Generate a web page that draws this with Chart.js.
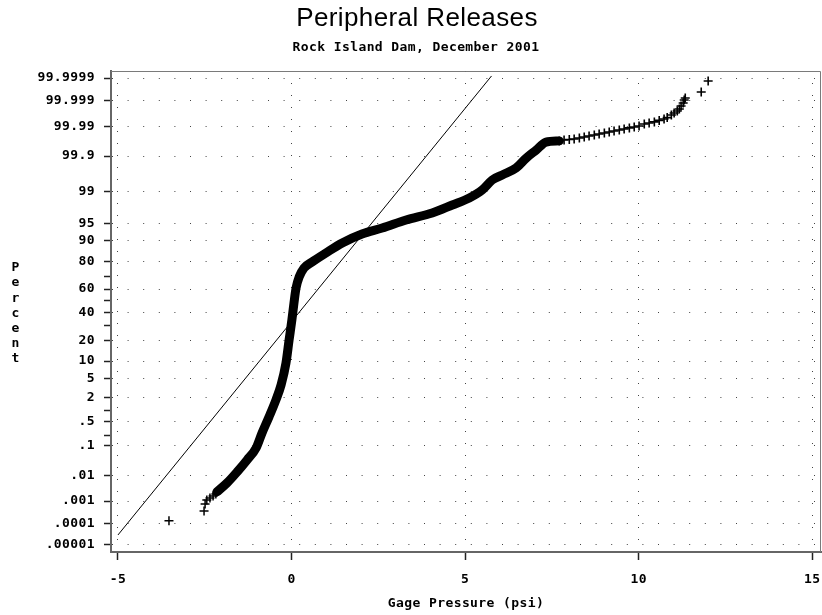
<!DOCTYPE html>
<html>
<head>
<meta charset="utf-8">
<script src="https://cdn.jsdelivr.net/npm/chart.js@4.4.1/dist/chart.umd.min.js"></script>
<style>
  html, body { margin: 0; padding: 0; background: #fff; }
  canvas { display: block; }
</style>
</head>
<body>
<canvas id="c" width="822" height="615"></canvas>
<script>
// ---------------- data ----------------
const chartTitle = 'Peripheral Releases';
const chartSubtitle = 'Rock Island Dam, December 2001';
const xTitle = 'Gage Pressure (psi)';
const yTitle = 'Percent';

const xTicks = [-5, 0, 5, 10, 15];
const yTickPct = [99.9999, 99.999, 99.99, 99.9, 99, 95, 90, 80, 60, 40, 20, 10, 5, 2, 0.5, 0.1, 0.01, 0.001, 0.0001, 0.00001];
const yTickLabels = ['99.9999', '99.999', '99.99', '99.9', '99', '95', '90', '80', '60', '40', '20', '10', '5', '2', '.5', '.1', '.01', '.001', '.0001', '.00001'];
const yMinorPct = [70, 50, 30, 1, 0.2];

// lower tail, individual observations (pressure psi, cumulative percent)
const lowTailX = [-3.53, -2.52, -2.49, -2.44, -2.35, -2.26, -2.18];
const lowTailPct = [0.000141, 0.000377, 0.00075, 0.00110, 0.00134, 0.00160, 0.00194];

// dense body of the sample (overlapping markers form a solid band)
const bodyX = [-2.15, -1.86, -1.57, -1.28, -1.02, -0.85, -0.65, -0.45, -0.30, -0.16, -0.07, 0.01, 0.07, 0.13, 0.22, 0.36, 0.59, 0.99, 1.46, 2.03, 2.61, 3.30, 4.05, 4.63, 5.12, 5.49, 5.78, 6.07, 6.47, 6.76, 7.05, 7.33, 7.71];
const bodyPct = [0.00234, 0.0052, 0.0133, 0.035, 0.086, 0.244, 0.67, 1.74, 3.7, 9.3, 20.3, 34.3, 48.3, 60.9, 69.6, 75.9, 79.7, 84.7, 89.2, 92.35, 94.0, 95.8, 96.97, 97.97, 98.60, 99.10, 99.506, 99.639, 99.772, 99.885, 99.936, 99.965, 99.968];

// upper tail, individual observations
const highTailX = [7.71, 7.85, 8.00, 8.14, 8.29, 8.43, 8.57, 8.72, 8.86, 9.01, 9.15, 9.29, 9.44, 9.58, 9.73, 9.87, 10.01, 10.16, 10.30, 10.45, 10.59, 10.73, 10.82, 10.94, 11.02, 11.11, 11.17, 11.22, 11.28, 11.31, 11.34, 11.80, 12.00];
const highTailPct = [99.9677, 99.9701, 99.9712, 99.9723, 99.9744, 99.9764, 99.9782, 99.9799, 99.9815, 99.9830, 99.9843, 99.9856, 99.9867, 99.9878, 99.9888, 99.9896, 99.9905, 99.9920, 99.9926, 99.9933, 99.9941, 99.9948, 99.9954, 99.99635, 99.99695, 99.99745, 99.99788, 99.9984, 99.99879, 99.99909, 99.99925, 99.999583, 99.999864];

// fitted normal reference line (end points)
const fitX = [-5.0, 5.76];
const fitPct = [0.0000303, 99.99992];

// axis ranges (x in psi, y in normal-quantile units)
const xMin = -5.2, xMax = 15.25;
const yMinZ = -5.352, yMaxZ = 4.904;

// ---------------- helpers ----------------
function probit(p) { // inverse standard normal CDF (Acklam)
  const a = [-3.969683028665376e+01, 2.209460984245205e+02, -2.759285104469687e+02, 1.383577518672690e+02, -3.066479806614716e+01, 2.506628277459239e+00];
  const b = [-5.447609879822406e+01, 1.615858368580409e+02, -1.556989798598866e+02, 6.680131188771972e+01, -1.328068155288572e+01];
  const c = [-7.784894002430293e-03, -3.223964580411365e-01, -2.400758277161838e+00, -2.549732539343734e+00, 4.374664141464968e+00, 2.938163982698783e+00];
  const d = [7.784695709041462e-03, 3.224671290700398e-01, 2.445134137142996e+00, 3.754408661907416e+00];
  const pl = 0.02425, ph = 1 - pl;
  let q, r;
  if (p < pl) {
    q = Math.sqrt(-2 * Math.log(p));
    return (((((c[0]*q+c[1])*q+c[2])*q+c[3])*q+c[4])*q+c[5]) / ((((d[0]*q+d[1])*q+d[2])*q+d[3])*q+1);
  }
  if (p <= ph) {
    q = p - 0.5; r = q * q;
    return (((((a[0]*r+a[1])*r+a[2])*r+a[3])*r+a[4])*r+a[5])*q / (((((b[0]*r+b[1])*r+b[2])*r+b[3])*r+b[4])*r+1);
  }
  q = Math.sqrt(-2 * Math.log(1 - p));
  return -(((((c[0]*q+c[1])*q+c[2])*q+c[3])*q+c[4])*q+c[5]) / ((((d[0]*q+d[1])*q+d[2])*q+d[3])*q+1);
}
const toPoints = (xs, pcts) => xs.map((x, i) => ({ x: x, y: probit(pcts[i] / 100) }));

const monoFont = { family: "'DejaVu Sans Mono', monospace", size: 13, weight: 'bold' };

const framePlugin = {
  id: 'frame',
  beforeDraw(chart) {
    chart.ctx.letterSpacing = '0.4px';
  },
  beforeDatasetsDraw(chart) {
    const { ctx, chartArea: a } = chart;
    ctx.save();
    ctx.strokeStyle = '#7a7a7a';
    ctx.lineWidth = 1;
    ctx.beginPath();
    ctx.moveTo(a.left, a.top + 0.5);
    ctx.lineTo(a.right - 0.5, a.top + 0.5);
    ctx.lineTo(a.right - 0.5, a.bottom);
    ctx.stroke();
    ctx.restore();
  },
  afterDraw(chart) {
    const { ctx, chartArea: a } = chart;
    ctx.save();
    ctx.fillStyle = '#000';
    ctx.textAlign = 'center';
    // title and subtitle
    ctx.textBaseline = 'alphabetic';
    ctx.font = "26px 'Liberation Sans', Arial, sans-serif";
    ctx.fillText(chartTitle, 417, 26);
    ctx.font = "bold 13px 'DejaVu Sans Mono', monospace";
    ctx.fillText(chartSubtitle, 416, 51);
    // stacked y-axis title
    ctx.textBaseline = 'middle';
    const step = 15.2;
    const cy = (a.top + a.bottom) / 2 + 2;
    const letters = yTitle.split('');
    const y0 = cy - step * (letters.length - 1) / 2;
    letters.forEach((ch, i) => ctx.fillText(ch, 15.5, y0 + i * step));
    ctx.restore();
  }
};

new Chart(document.getElementById('c'), {
  type: 'line',
  data: {
    datasets: [
      {
        label: 'fit',
        data: toPoints(fitX, fitPct),
        borderColor: '#000', borderWidth: 1,
        pointRadius: 0, fill: false, tension: 0
      },
      {
        label: 'body',
        data: toPoints(bodyX, bodyPct),
        borderColor: '#000', borderWidth: 9,
        borderCapStyle: 'round', borderJoinStyle: 'round',
        cubicInterpolationMode: 'monotone',
        pointRadius: 0, fill: false
      },
      {
        label: 'low tail',
        data: toPoints(lowTailX, lowTailPct),
        showLine: false,
        pointStyle: 'cross', pointRadius: 4.5, pointBorderWidth: 1.5,
        pointBorderColor: '#000', pointBackgroundColor: '#000'
      },
      {
        label: 'high tail',
        data: toPoints(highTailX, highTailPct),
        showLine: false,
        pointStyle: 'cross', pointRadius: 4.5, pointBorderWidth: 1.6,
        pointBorderColor: '#000', pointBackgroundColor: '#000'
      }
    ]
  },
  options: {
    responsive: false,
    animation: false,
    events: [],
    layout: { padding: { left: 0, right: 1, top: 71, bottom: 0 }, autoPadding: false },
    plugins: {
      legend: { display: false },
      tooltip: { enabled: false },
      title: { display: false },
      subtitle: { display: false }
    },
    scales: {
      x: {
        type: 'linear', position: 'bottom',
        min: xMin, max: xMax,
        afterBuildTicks: s => { s.ticks = xTicks.map(v => ({ value: v })); },
        afterFit: s => { s.height = 63; s.paddingLeft = 0; s.paddingRight = 0; },
        grid: { color: '#444', lineWidth: 1, tickLength: 8, tickColor: '#222', tickWidth: 1.5 },
        border: { display: true, color: '#666', width: 2, dash: [1, 11] },
        ticks: { font: monoFont, color: '#000', padding: 12, maxRotation: 0, autoSkip: false, callback: v => String(v) },
        title: { display: true, text: xTitle, color: '#000', font: monoFont, padding: { top: 0, bottom: 4 } }
      },
      y: {
        type: 'linear', position: 'left',
        min: yMinZ, max: yMaxZ,
        afterBuildTicks: s => {
          const t = yTickPct.map((p, i) => ({ value: probit(p / 100), lbl: yTickLabels[i] }))
            .concat(yMinorPct.map(p => ({ value: probit(p / 100), lbl: '' })));
          t.sort((a, b) => a.value - b.value);
          s.ticks = t;
        },
        afterFit: s => { s.width = 111; s.paddingTop = 0; s.paddingBottom = 0; },
        grid: {
          color: c => (c.tick && c.tick.label) ? '#444' : 'rgba(0,0,0,0)',
          lineWidth: 1, tickLength: 7, tickColor: '#222', tickWidth: 1.5
        },
        border: { display: true, color: '#666', width: 2, dash: [1, 14.6] },
        ticks: {
          font: monoFont, color: '#000', padding: 9, autoSkip: false,
          callback: (v, i, ticks) => ticks[i].lbl
        },
        title: { display: false }
      }
    }
  },
  plugins: [framePlugin]
});
</script>
</body>
</html>
